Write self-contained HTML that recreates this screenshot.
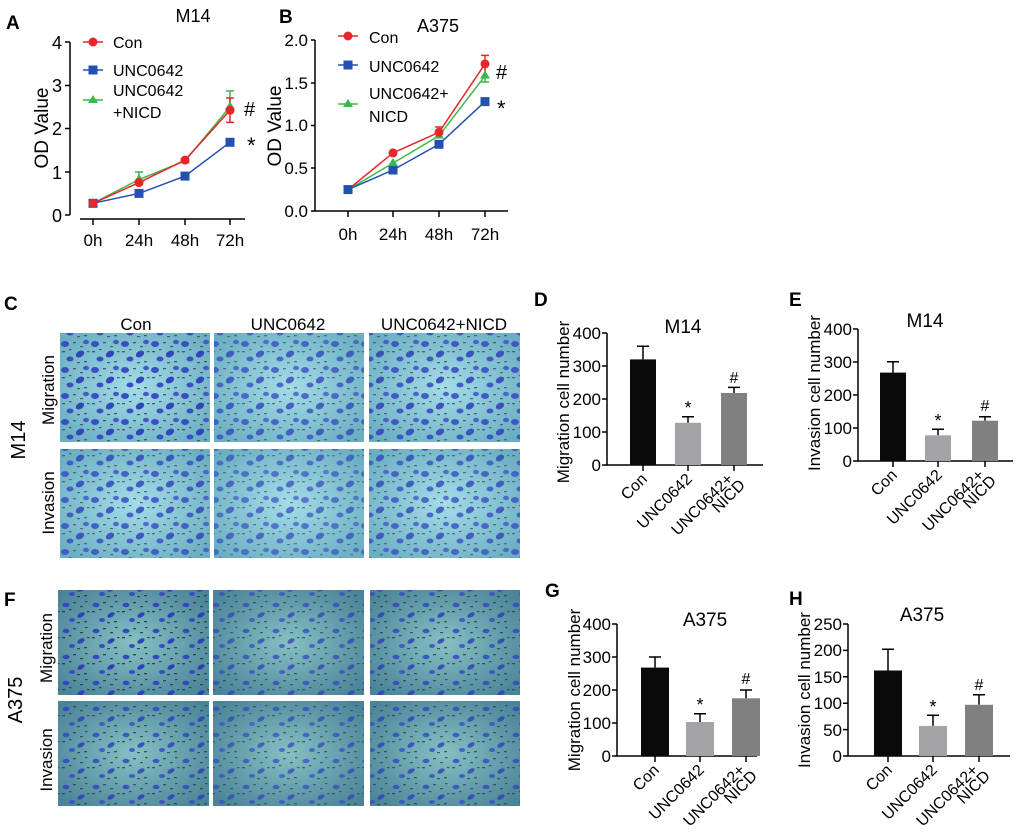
<!DOCTYPE html>
<html><head><meta charset="utf-8"><style>
html,body{margin:0;padding:0;background:#fff;}
svg{display:block;font-family:"Liberation Sans",Arial,sans-serif;}
</style></head><body>
<svg width="1020" height="835" viewBox="0 0 1020 835" xmlns="http://www.w3.org/2000/svg">
<defs>
<radialGradient id="gm" cx="50%" cy="50%" r="65%"><stop offset="0" stop-color="#a4dce8"/><stop offset="1" stop-color="#6aaec2"/></radialGradient>
<radialGradient id="ga" cx="50%" cy="50%" r="65%"><stop offset="0" stop-color="#86c0c4"/><stop offset="1" stop-color="#4a8498"/></radialGradient>
<pattern id="pm" width="30" height="26" patternUnits="userSpaceOnUse">
<ellipse cx="5" cy="6" rx="4" ry="3" fill="#3a4fc0"/>
<ellipse cx="20" cy="16" rx="4.5" ry="3" fill="#3346b8" transform="rotate(-30 20 16)"/>
<ellipse cx="26" cy="4" rx="3" ry="2.2" fill="#4458c8"/>
<ellipse cx="10" cy="21" rx="3.5" ry="2.5" fill="#3a4fc0"/>
<g fill="#4a5a6a"><rect x="13" y="4" width="3" height="1.3"/><rect x="2" y="13" width="3" height="1.3"/><rect x="24" y="23" width="3" height="1.3"/><rect x="9" y="11" width="2.5" height="1.2"/><rect x="20" y="8" width="3" height="1.2"/><rect x="27" y="13" width="2.5" height="1.2"/><rect x="17" y="24" width="3" height="1.2"/></g>
</pattern>
<pattern id="pa" width="30" height="26" patternUnits="userSpaceOnUse">
<ellipse cx="6" cy="7" rx="3.5" ry="2.2" fill="#3446c0"/>
<ellipse cx="21" cy="17" rx="4" ry="2.2" fill="#3040b8" transform="rotate(-30 21 17)"/>
<ellipse cx="12" cy="22" rx="3" ry="2" fill="#3a4cc4"/>
<g fill="#2e4450"><rect x="13" y="4" width="3" height="1.3"/><rect x="2" y="13" width="3" height="1.3"/><rect x="24" y="23" width="3" height="1.3"/><rect x="9" y="11" width="2.5" height="1.2"/><rect x="20" y="8" width="3" height="1.2"/><rect x="27" y="13" width="2.5" height="1.2"/><rect x="17" y="24" width="3" height="1.2"/><rect x="25" y="3" width="2.5" height="1.2"/></g>
</pattern>
</defs>

<g font-weight="bold" font-size="19" fill="#000">
<text x="6" y="29">A</text><text x="279" y="23">B</text>
<text x="4" y="310">C</text><text x="534" y="306">D</text><text x="789" y="306">E</text>
<text x="4" y="606">F</text><text x="545" y="597">G</text><text x="789" y="605">H</text>
</g>

<!-- Panel A -->
<text x="193" y="22" font-size="18" text-anchor="middle">M14</text>
<g stroke="#000" stroke-width="1.5" fill="none">
<path d="M70 42V215"/><path d="M65 42H70M65 85.5H70M65 128.5H70M65 172H70M65 215H70"/>
<path d="M80 219H245"/><path d="M93 219v6M139 219v6M185 219v6M230 219v6"/>
</g>
<g font-size="18" text-anchor="end"><text x="62" y="49">4</text><text x="62" y="92">3</text><text x="62" y="135">2</text><text x="62" y="179">1</text><text x="62" y="222">0</text></g>
<g font-size="17" text-anchor="middle"><text x="93" y="246">0h</text><text x="139" y="246">24h</text><text x="185" y="246">48h</text><text x="230" y="246">72h</text></g>
<text transform="translate(48,128) rotate(-90)" font-size="19" text-anchor="middle">OD Value</text>
<g stroke-width="1.5" fill="none">
<path d="M93 203.3L139 179.5L185 160.9L230 106.9M139 179.5V172M135 172h8M230 106.9V90.9M226 90.9h8" stroke="#3cb84a"/>
<path d="M93 203.3L139 193.4L185 176.1L230 142.3" stroke="#2450b0"/>
<path d="M93 203.3L139 182.6L185 160.1L230 110.3M230 98V122.4M226 98h8M226 122.4h8" stroke="#e8262a"/>
</g>
<g fill="#2450b0"><rect x="88.5" y="198.8" width="9" height="9"/><rect x="134.5" y="188.9" width="9" height="9"/><rect x="180.5" y="171.6" width="9" height="9"/><rect x="225.5" y="137.8" width="9" height="9"/></g>
<g fill="#3cb84a"><path d="M139 174l5 8h-10z"/><path d="M185 155.5l5 8h-10z"/><path d="M230 101.5l5 8h-10z"/></g>
<g fill="#e8262a"><circle cx="93" cy="203.3" r="4.5"/><circle cx="139" cy="182.6" r="4.5"/><circle cx="185" cy="160.1" r="4.5"/><circle cx="230" cy="110.3" r="4.5"/></g>
<text x="244" y="116" font-size="20">#</text><text x="247" y="153" font-size="22">*</text>
<path d="M83 42H103" stroke="#e8262a" stroke-width="1.5"/><circle cx="93" cy="42" r="4.5" fill="#e8262a"/>
<path d="M83 70H103" stroke="#2450b0" stroke-width="1.5"/><rect x="88.5" y="65.5" width="9" height="9" fill="#2450b0"/>
<path d="M83 100H103" stroke="#3cb84a" stroke-width="1.5"/><path d="M93 95l5 8h-10z" fill="#3cb84a"/>
<g font-size="16"><text x="113" y="48">Con</text><text x="113" y="76">UNC0642</text><text x="113" y="96">UNC0642</text><text x="113" y="118">+NICD</text></g>

<!-- Panel B -->
<text x="438" y="32" font-size="18" text-anchor="middle">A375</text>
<g stroke="#000" stroke-width="1.5" fill="none">
<path d="M315 40V211H508"/><path d="M311 40H315M311 83H315M311 125.5H315M311 168H315M311 211H315"/>
<path d="M348 211v6M393 211v6M439 211v6M485 211v6"/>
</g>
<g font-size="17" text-anchor="end"><text x="308" y="46">2.0</text><text x="308" y="89">1.5</text><text x="308" y="131">1.0</text><text x="308" y="174">0.5</text><text x="308" y="217">0.0</text></g>
<g font-size="17" text-anchor="middle"><text x="348" y="240">0h</text><text x="393" y="240">24h</text><text x="439" y="240">48h</text><text x="485" y="240">72h</text></g>
<text transform="translate(281,126) rotate(-90)" font-size="19" text-anchor="middle">OD Value</text>
<g stroke-width="1.5" fill="none">
<path d="M348 189.6L393 163.1L439 135.8L485 75.9M485 75.9V82M481 82h8" stroke="#3cb84a"/>
<path d="M348 189.6L393 170L439 144.3L485 101.6" stroke="#2450b0"/>
<path d="M348 189.6L393 152.9L439 132.3L485 63.9M485 55.4V72M481 55.4h8M439 132.3V127M435 127h8" stroke="#e8262a"/>
</g>
<g fill="#2450b0"><rect x="343.5" y="185.1" width="9" height="9"/><rect x="388.5" y="165.5" width="9" height="9"/><rect x="434.5" y="139.8" width="9" height="9"/><rect x="480.5" y="97.1" width="9" height="9"/></g>
<g fill="#3cb84a"><path d="M393 158l5 8h-10z"/><path d="M439 130.5l5 8h-10z"/><path d="M485 70.5l5 8h-10z"/></g>
<g fill="#e8262a"><circle cx="393" cy="152.9" r="4.5"/><circle cx="439" cy="132.3" r="4.5"/><circle cx="485" cy="63.9" r="4.5"/></g>
<text x="496" y="79" font-size="20">#</text><text x="497" y="116" font-size="22">*</text>
<path d="M338 36H358" stroke="#e8262a" stroke-width="1.5"/><circle cx="348" cy="36" r="4.5" fill="#e8262a"/>
<path d="M338 65H358" stroke="#2450b0" stroke-width="1.5"/><rect x="343.5" y="60.5" width="9" height="9" fill="#2450b0"/>
<path d="M338 104H358" stroke="#3cb84a" stroke-width="1.5"/><path d="M348 99l5 8h-10z" fill="#3cb84a"/>
<g font-size="16"><text x="369" y="43">Con</text><text x="369" y="72">UNC0642</text><text x="369" y="99">UNC0642+</text><text x="369" y="122">NICD</text></g>

<!-- Images -->
<g font-size="17" text-anchor="middle"><text x="136" y="330">Con</text><text x="288" y="330">UNC0642</text><text x="444" y="330">UNC0642+NICD</text></g>
<g>
<rect x="60" y="333" width="150" height="109" fill="url(#gm)"/><rect x="60" y="333" width="150" height="109" fill="url(#pm)"/>
<rect x="214" y="333" width="150" height="109" fill="url(#gm)"/><rect x="214" y="333" width="150" height="109" fill="url(#pm)" opacity="0.8"/>
<rect x="369" y="333" width="151" height="109" fill="url(#gm)"/><rect x="369" y="333" width="151" height="109" fill="url(#pm)" opacity="0.9"/>
<rect x="60" y="449" width="150" height="109" fill="url(#gm)"/><rect x="60" y="449" width="150" height="109" fill="url(#pm)" opacity="0.85"/>
<rect x="214" y="449" width="150" height="109" fill="url(#gm)"/><rect x="214" y="449" width="150" height="109" fill="url(#pm)" opacity="0.7"/>
<rect x="369" y="449" width="151" height="109" fill="url(#gm)"/><rect x="369" y="449" width="151" height="109" fill="url(#pm)" opacity="0.8"/>
<rect x="58" y="590" width="151" height="105" fill="url(#ga)"/><rect x="58" y="590" width="151" height="105" fill="url(#pa)"/>
<rect x="213" y="590" width="151" height="105" fill="url(#ga)"/><rect x="213" y="590" width="151" height="105" fill="url(#pa)" opacity="0.75"/>
<rect x="370" y="590" width="150" height="105" fill="url(#ga)"/><rect x="370" y="590" width="150" height="105" fill="url(#pa)" opacity="0.85"/>
<rect x="58" y="701" width="151" height="105" fill="url(#ga)"/><rect x="58" y="701" width="151" height="105" fill="url(#pa)" opacity="0.85"/>
<rect x="213" y="701" width="151" height="105" fill="url(#ga)"/><rect x="213" y="701" width="151" height="105" fill="url(#pa)" opacity="0.7"/>
<rect x="370" y="701" width="150" height="105" fill="url(#ga)"/><rect x="370" y="701" width="150" height="105" fill="url(#pa)" opacity="0.8"/>
</g>
<g font-size="17" text-anchor="middle">
<text transform="translate(54,390) rotate(-90)">Migration</text>
<text transform="translate(54,503) rotate(-90)">Invasion</text>
<text transform="translate(52,648) rotate(-90)">Migration</text>
<text transform="translate(52,760) rotate(-90)">Invasion</text>
</g>
<g font-size="20" text-anchor="middle">
<text transform="translate(25,440) rotate(-90)">M14</text>
<text transform="translate(22,700) rotate(-90)">A375</text>
</g>

<!-- Panel D -->
<text x="683" y="333" font-size="19" text-anchor="middle">M14</text>
<g fill="none" stroke="#000" stroke-width="1.5">
<path d="M607 333V465H763"/><path d="M602 333H607M602 366H607M602 399H607M602 432H607M602 465H607"/>
<path d="M643 465v6M688 465v6M734 465v6"/>
<path d="M643 359.4V346.2M637 346.2h12M688 422.8V416.8M682 416.8h12M734 393V387.4M728 387.4h12"/>
</g>
<rect x="630" y="359.4" width="26" height="105.6" fill="#0a0a0a"/>
<rect x="675" y="422.8" width="26" height="42.2" fill="#a3a3a8"/>
<rect x="721" y="393" width="26" height="72" fill="#808080"/>
<g font-size="17" text-anchor="end"><text x="601" y="339">400</text><text x="601" y="372">300</text><text x="601" y="405">200</text><text x="601" y="438">100</text><text x="601" y="471">0</text></g>
<text transform="translate(569,402) rotate(-90)" font-size="17" text-anchor="middle">Migration cell number</text>
<text x="688" y="414" font-size="18" text-anchor="middle">*</text><text x="734" y="383" font-size="16" text-anchor="middle">#</text>
<g font-size="16" text-anchor="end">
<text transform="translate(648,480) rotate(-45)">Con</text>
<text transform="translate(693,480) rotate(-45)">UNC0642</text>
<text transform="translate(734,480) rotate(-45)">UNC0642+</text>
<text transform="translate(746,486) rotate(-45)">NICD</text>
</g>

<!-- Panel E -->
<text x="925" y="327" font-size="19" text-anchor="middle">M14</text>
<g fill="none" stroke="#000" stroke-width="1.5">
<path d="M858 329V461H1013"/><path d="M853 329H858M853 362H858M853 395H858M853 428H858M853 461H858"/>
<path d="M893 461v6M938 461v6M985 461v6"/>
<path d="M893 372.6V361.7M887 361.7h12M938 435.3V429.3M932 429.3h12M985 420.7V416.8M979 416.8h12"/>
</g>
<rect x="880" y="372.6" width="26" height="88.4" fill="#0a0a0a"/>
<rect x="925" y="435.3" width="26" height="25.7" fill="#a3a3a8"/>
<rect x="972" y="420.7" width="26" height="40.3" fill="#808080"/>
<g font-size="17" text-anchor="end"><text x="852" y="335">400</text><text x="852" y="368">300</text><text x="852" y="401">200</text><text x="852" y="434">100</text><text x="852" y="467">0</text></g>
<text transform="translate(820,393) rotate(-90)" font-size="17" text-anchor="middle">Invasion cell number</text>
<text x="938" y="427" font-size="18" text-anchor="middle">*</text><text x="985" y="411" font-size="16" text-anchor="middle">#</text>
<g font-size="16" text-anchor="end">
<text transform="translate(898,476) rotate(-45)">Con</text>
<text transform="translate(943,476) rotate(-45)">UNC0642</text>
<text transform="translate(985,476) rotate(-45)">UNC0642+</text>
<text transform="translate(997,482) rotate(-45)">NICD</text>
</g>

<!-- Panel G -->
<text x="705" y="626" font-size="19" text-anchor="middle">A375</text>
<g fill="none" stroke="#000" stroke-width="1.5">
<path d="M617 624V756H757"/><path d="M612 624H617M612 657H617M612 690H617M612 723H617M612 756H617"/>
<path d="M655 756v6M700 756v6M746 756v6"/>
<path d="M655 667.6V657M649 657h12M700 722V713.8M694 713.8h12M746 698.3V690M740 690h12"/>
</g>
<rect x="641" y="667.6" width="28" height="88.4" fill="#0a0a0a"/>
<rect x="686" y="722" width="28" height="34" fill="#a3a3a8"/>
<rect x="732" y="698.3" width="28" height="57.7" fill="#808080"/>
<g font-size="17" text-anchor="end"><text x="611" y="630">400</text><text x="611" y="663">300</text><text x="611" y="696">200</text><text x="611" y="729">100</text><text x="611" y="762">0</text></g>
<text transform="translate(580,690) rotate(-90)" font-size="17" text-anchor="middle">Migration cell number</text>
<text x="700" y="711" font-size="18" text-anchor="middle">*</text><text x="746" y="684" font-size="16" text-anchor="middle">#</text>
<g font-size="16" text-anchor="end">
<text transform="translate(660,771) rotate(-45)">Con</text>
<text transform="translate(705,771) rotate(-45)">UNC0642</text>
<text transform="translate(746,771) rotate(-45)">UNC0642+</text>
<text transform="translate(758,777) rotate(-45)">NICD</text>
</g>

<!-- Panel H -->
<text x="922" y="621" font-size="19" text-anchor="middle">A375</text>
<g fill="none" stroke="#000" stroke-width="1.5">
<path d="M848 624V756H1010"/><path d="M843 624H848M843 650.4H848M843 676.8H848M843 703.2H848M843 729.6H848M843 756H848"/>
<path d="M888 756v6M933 756v6M979 756v6"/>
<path d="M888 670.5V649.3M882 649.3h12M933 725.9V715.3M927 715.3h12M979 704.8V694.8M973 694.8h12"/>
</g>
<rect x="874" y="670.5" width="28" height="85.5" fill="#0a0a0a"/>
<rect x="919" y="725.9" width="28" height="30.1" fill="#a3a3a8"/>
<rect x="965" y="704.8" width="28" height="51.2" fill="#808080"/>
<g font-size="17" text-anchor="end"><text x="842" y="630">250</text><text x="842" y="656">200</text><text x="842" y="683">150</text><text x="842" y="709">100</text><text x="842" y="736">50</text><text x="842" y="762">0</text></g>
<text transform="translate(810,690) rotate(-90)" font-size="17" text-anchor="middle">Invasion cell number</text>
<text x="933" y="713" font-size="18" text-anchor="middle">*</text><text x="979" y="690" font-size="16" text-anchor="middle">#</text>
<g font-size="16" text-anchor="end">
<text transform="translate(893,771) rotate(-45)">Con</text>
<text transform="translate(938,771) rotate(-45)">UNC0642</text>
<text transform="translate(979,771) rotate(-45)">UNC0642+</text>
<text transform="translate(991,777) rotate(-45)">NICD</text>
</g>
</svg>
</body></html>
